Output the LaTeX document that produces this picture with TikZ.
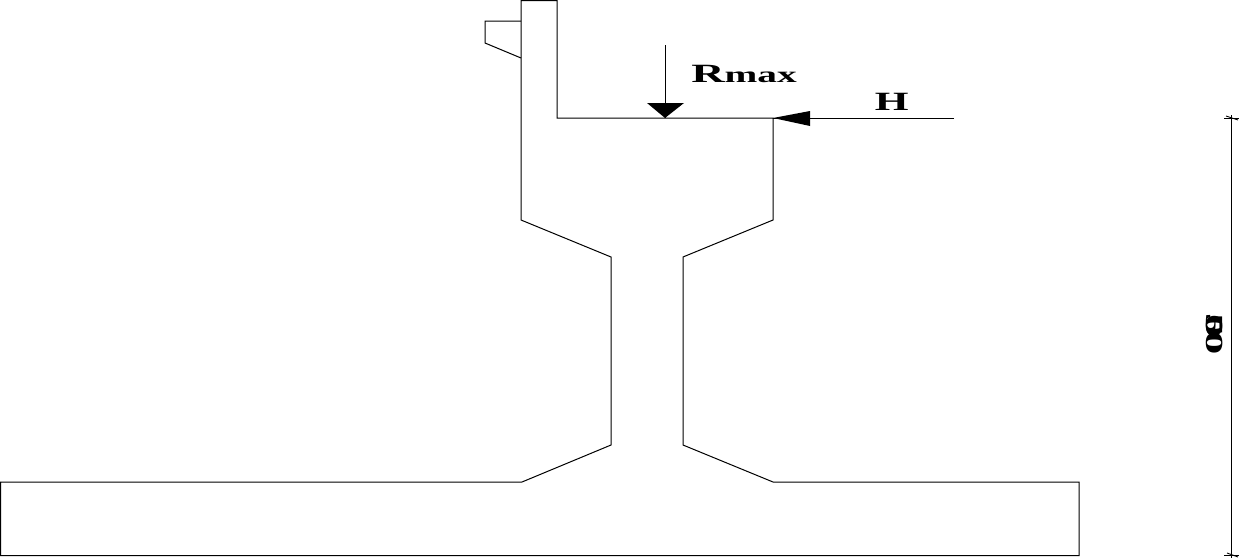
\documentclass[tikz,border=0pt]{standalone}
\usepackage{fontspec}
\setmainfont{Liberation Serif}
\begin{document}
\begin{tikzpicture}[x=0.02cm,y=-0.02cm,line width=0.57pt,
  loadlabel/.style={inner sep=0pt,anchor=base west,xscale=1.75,font=\bfseries},
  loadhead/.style={fill=black,draw=none},
  dimtick/.style={line width=0.5pt}]
\useasboundingbox (0,0) rectangle (1257,558);
\draw (521,0.5) -- (557,0.5) -- (557,118) -- (773,118) -- (773,220) -- (683,257) -- (683,445) -- (773,482) -- (1079,482) -- (1079,555.5) -- (0.5,555.5) -- (0.5,482) -- (522,482) -- (611,445) -- (611,257) -- (521,220) -- cycle;
\draw (521,21) -- (485,21) -- (485,43) -- (521,58);
\coordinate (rtop) at (665,45);
\coordinate (rtip) at (665,118);
\draw (rtop) -- (rtip);
\fill[loadhead] (647,103) -- (684,103) -- (rtip) -- cycle;
\coordinate (hend) at (954,118);
\coordinate (htip) at (773,118);
\draw (hend) -- (htip);
\fill[loadhead] (810,111) -- (810,126) -- (htip) -- cycle;
\node[loadlabel] (rmax) at (690.5,82) {\fontsize{15}{16}\selectfont R\fontsize{12.8}{14}\selectfont max};
\node[loadlabel,xscale=0.94] (hlabel) at (874,110.5) {\fontsize{15}{16}\selectfont H};
\coordinate (dimtop) at (1231.5,115);
\coordinate (dimbot) at (1231.5,558);
\draw (dimtop) -- (dimbot);
\draw[dimtick] (1224,118) -- (1239,118);
\draw[dimtick] (1226,116) -- (1238,120);
\draw[dimtick] (1224,555.5) -- (1239,555.5);
\draw[dimtick] (1227,553) -- (1238,557);
\node[rotate=-90,inner sep=0pt,xscale=1.9,yscale=1] (dimlabel) at (1214.5,334) {\fontsize{14}{16}\selectfont\bfseries 5\kern-6.5pt 0\kern-2pt 0};
\end{tikzpicture}
\end{document}
